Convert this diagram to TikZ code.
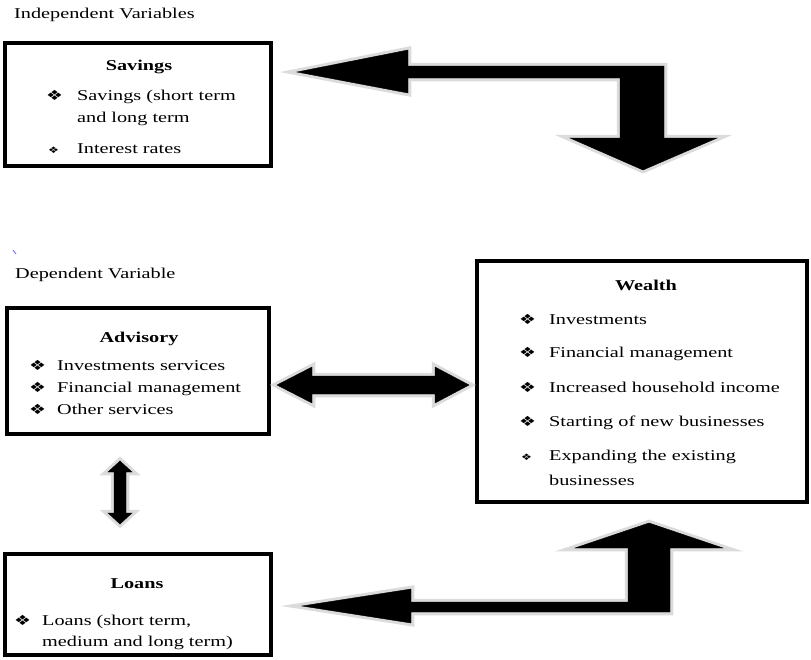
\documentclass[tikz,border=0pt]{standalone}
\usepackage{fontspec}
\setmainfont{Liberation Serif}[FakeStretch=1.35]
\newfontfamily\dingfont{DejaVu Sans}[FakeStretch=1.35]
\newcommand\bigbul{{\dingfont\fontsize{14}{14}\selectfont ❖}}
\newcommand\smallbul{{\dingfont\fontsize{9}{9}\selectfont ❖}}
\usetikzlibrary{positioning}

\begin{document}
\begin{tikzpicture}[x=1pt, y=-1pt,
    every node/.style={inner sep=0pt, font=\fontsize{15}{18}\selectfont},
    txt/.style={anchor=base west},
    head/.style={anchor=base, font=\fontsize{15}{18}\selectfont\bfseries},
    box/.style={draw, rectangle, line width=3.2pt},
    blockarrow/.style={fill=black, preaction={draw=black!14, line width=6.5pt}}]
        \useasboundingbox (0,0) rectangle (811,659);

        \node[txt] (indep) at (14,18) {Independent Variables};
        \node[txt] (dep) at (15,278) {Dependent Variable};
        \draw[blue!60, line width=0.8pt] (13,250) -- (16,254);

        \node[box, minimum width=266pt, minimum height=123pt] (savings) at (138,104.5) {};
        \node[box, minimum width=262pt, minimum height=126pt] (advisory) at (138,371) {};
        \node[box, minimum width=330pt, minimum height=241pt] (wealth) at (642,381.5) {};
        \node[box, minimum width=266pt, minimum height=101pt] (loans) at (138,604.5) {};

        \node[head] (savT) at (139,70) {Savings};
        \node[txt] (savB1) at (46,100) {\bigbul};
        \node[txt] (sav1) at (77,100) {Savings (short term};
        \node[txt] (sav1b) at (77,122) {and long term};
        \node[txt] (savB2) at (48,153) {\smallbul};
        \node[txt] (sav2) at (77,153) {Interest rates};

        \node[head] (advT) at (139,342) {Advisory};
        \node[txt] (advB1) at (29,370) {\bigbul};
        \node[txt] (adv1) at (57,370) {Investments services};
        \node[txt] (advB2) at (29,392) {\bigbul};
        \node[txt] (adv2) at (57,392) {Financial management};
        \node[txt] (advB3) at (29,414) {\bigbul};
        \node[txt] (adv3) at (57,414) {Other services};

        \node[head] (weaT) at (646,290) {Wealth};
        \node[txt] (weaB1) at (519,324) {\bigbul};
        \node[txt] (wea1) at (549,324) {Investments};
        \node[txt] (weaB2) at (519,357) {\bigbul};
        \node[txt] (wea2) at (549,357) {Financial management};
        \node[txt] (weaB3) at (519,392) {\bigbul};
        \node[txt] (wea3) at (549,392) {Increased household income};
        \node[txt] (weaB4) at (519,426) {\bigbul};
        \node[txt] (wea4) at (549,426) {Starting of new businesses};
        \node[txt] (weaB5) at (521,460) {\smallbul};
        \node[txt] (wea5) at (549,460) {Expanding the existing};
        \node[txt] (wea5b) at (549,485) {businesses};

        \node[head] (loaT) at (137,588) {Loans};
        \node[txt] (loaB1) at (14,625) {\bigbul};
        \node[txt] (loa1) at (42,625) {Loans (short term,};
        \node[txt] (loa1b) at (42,646) {medium and long term)};

        % block arrows
        \draw[blockarrow] (297,72) -- (408,50) -- (408,66) -- (664,66) -- (664,138) -- (717,138)
            -- (643,170) -- (570,138) -- (620,138) -- (620,78) -- (408,78) -- (408,93) -- cycle;
        \draw[blockarrow] (277,385) -- (312,367) -- (312,376) -- (435,376) -- (435,367) -- (469,385)
            -- (435,403) -- (435,394) -- (312,394) -- (312,403) -- cycle;
        \draw[blockarrow] (120,461) -- (132,472) -- (126,472) -- (126,513) -- (132,513) -- (120,524)
            -- (108,513) -- (114,513) -- (114,472) -- (108,472) -- cycle;
        \draw[blockarrow] (302,606) -- (411,589) -- (411,602) -- (628,602) -- (628,548) -- (575,548)
            -- (649,523) -- (723,548) -- (670,548) -- (670,612) -- (411,612) -- (411,623) -- cycle;
    \end{tikzpicture}
\end{document}
